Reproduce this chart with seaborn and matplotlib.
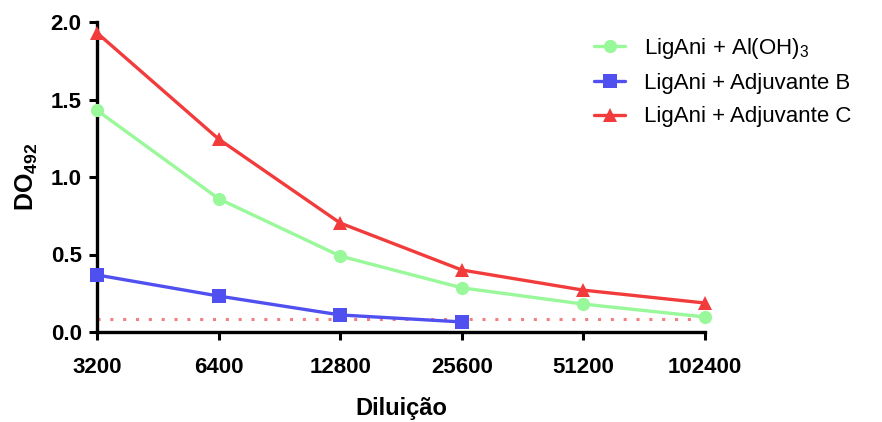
import numpy as np
import pandas as pd
import matplotlib
matplotlib.use("Agg")
import matplotlib.pyplot as plt
import seaborn as sns

dilutions = [3200, 6400, 12800, 25600, 51200, 102400]
alum = [1.43, 0.86, 0.49, 0.285, 0.18, 0.097]
adj_b = [0.368, 0.232, 0.11, 0.065]
adj_c = [1.93, 1.245, 0.703, 0.40, 0.27, 0.187]
cutoff = 0.085
labels = ["LigAni + Al(OH)$_3$", "LigAni + Adjuvante B", "LigAni + Adjuvante C"]
y_ticks = [0.0, 0.5, 1.0, 1.5, 2.0]

sns.set_style("ticks")
plt.rcParams['font.family'] = ['Liberation Sans', 'DejaVu Sans']
plt.rcParams['text.color'] = 'black'
plt.rcParams['axes.labelcolor'] = 'black'
plt.rcParams['xtick.color'] = 'black'
plt.rcParams['ytick.color'] = 'black'
plt.rcParams['mathtext.fontset'] = 'custom'
plt.rcParams['mathtext.rm'] = 'Liberation Sans'
plt.rcParams['mathtext.bf'] = 'Liberation Sans:bold'

fig = plt.figure(figsize=(8.82, 4.22), dpi=100)
ax = fig.add_axes([97/882, 1-332/422, (705-97)/882, (332-22)/422])

colors = ["#99f899", "#5050f0", "#f23c3c"]
markers = ["o", "s", "^"]
series = [alum, adj_b, adj_c]

df_cut = pd.DataFrame({"x": [dilutions[0], dilutions[-1]], "y": [cutoff, cutoff]})
sns.lineplot(data=df_cut, x="x", y="y", ax=ax, color="#f28080",
             linestyle=(0, (1, 3.2)), linewidth=2.2, zorder=1)

for vals, lab, col, mk in zip(series, labels, colors, markers):
    df = pd.DataFrame({"x": dilutions[:len(vals)], "y": vals})
    sns.lineplot(data=df, x="x", y="y", ax=ax, color=col, marker=mk,
                 markersize=10 if mk != "o" else 9.5, markeredgewidth=0,
                 linewidth=2.4, label=lab, clip_on=False, zorder=3)

ax.set_xscale("log", base=2)
ax.set_xlim(dilutions[0], dilutions[-1])
ax.set_ylim(0, 2.0)
ax.set_xticks(dilutions)
ax.set_xticklabels([str(d) for d in dilutions])
ax.minorticks_off()
ax.set_yticks(y_ticks)
ax.set_yticklabels([f"{v:.1f}" for v in y_ticks])

for lbl in ax.get_xticklabels() + ax.get_yticklabels():
    lbl.set_fontweight("bold")
    lbl.set_fontsize(16)
    lbl.set_color("black")
ax.tick_params(axis="both", length=6, width=2.2, color="black", pad=5)
ax.tick_params(axis="x", pad=12)

sns.despine(ax=ax)
for s in ["left", "bottom"]:
    ax.spines[s].set_linewidth(2.4)
    ax.spines[s].set_color("black")

ax.set_xlabel("Diluição", fontsize=17, fontweight="bold", labelpad=14, color="black")
ax.set_ylabel("DO$_{\\mathbf{492}}$", fontsize=18, fontweight="bold", labelpad=8, color="black")

leg = ax.legend(loc="upper left", bbox_to_anchor=(594/882, 386/422),
                bbox_transform=fig.transFigure, frameon=False, fontsize=16,
                handlelength=1.4, handletextpad=0.85, labelspacing=0.55,
                borderaxespad=0, borderpad=0)
for t in leg.get_texts():
    t.set_color("black")

fig.savefig("out.png", dpi=100)
